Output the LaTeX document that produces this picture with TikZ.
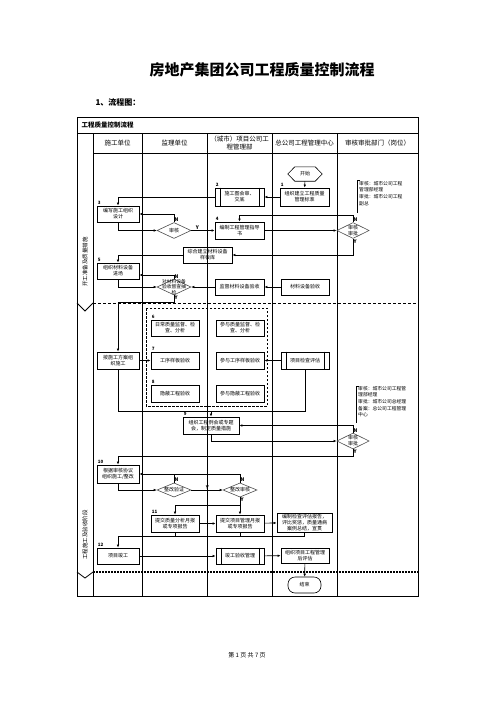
\documentclass[tikz,border=0pt]{standalone}
\usepackage{fontspec}
\setmainfont{Noto Sans CJK SC}
\usetikzlibrary{arrows.meta,positioning,shapes.geometric,calc}
\newcommand{\sidebars}[1]{%
  \draw[line width=0.8pt] ([xshift=5.5pt]#1.north west) -- ([xshift=5.5pt]#1.south west)
    ([xshift=-5.5pt]#1.north east) -- ([xshift=-5.5pt]#1.south east);}
\newcommand{\notebracket}[2]{%
  \draw[line width=0.8pt] (#1+3,#2) -- (#1,#2) -- (#1,#2+33);}

\begin{document}
\begin{tikzpicture}[x=1pt,y=-1pt,
  every node/.style={font=\fontsize{5}{6}\selectfont},
  box/.style={draw,line width=0.8pt,inner sep=0pt,align=center,minimum width=49pt,minimum height=16pt},
  dia/.style={draw=black!70,line width=0.6pt,diamond,aspect=2.1,inner sep=0pt,align=center,minimum width=34pt,minimum height=16pt},
  head/.style={align=center,font=\fontsize{6.5}{8}\selectfont},
  num/.style={anchor=south west,inner sep=1pt,font=\fontsize{4.5}{5}\selectfont\bfseries},
  yn/.style={inner sep=0.5pt,font=\fontsize{5}{5}\selectfont\bfseries},
  note/.style={anchor=north west,align=left,inner sep=1pt,font=\fontsize{4.8}{6.6}\selectfont},
  arr/.style={-{Latex[length=3pt,width=2.6pt]},line width=0.6pt},
  link/.style={line width=0.6pt},
  frame/.style={line width=0.8pt}
]
\useasboundingbox (0,0) rectangle (496,702);

% title
\node[font=\fontsize{15}{15}\selectfont\bfseries] (title) at (262,70) {房地产集团公司工程质量控制流程};
\node[anchor=west,font=\fontsize{8}{8}\selectfont\bfseries] (sub) at (92,102) {1、流程图：};

% table
\draw[frame] (77,117) rectangle (418,596);
\draw[frame] (77,133) -- (418,133);
\draw[frame] (93,153) -- (418,153);
\draw[frame] (93,133) -- (93,596);
\foreach \x in {142,207,272,337}
  \draw[frame] (\x,133) -- (\x,596);
\node[anchor=west,font=\fontsize{6.5}{7}\selectfont\bfseries] (tabtitle) at (78,125) {工程质量控制流程};
\node[head] (h1) at (117.5,143) {施工单位};
\node[head] (h2) at (174.5,143) {监理单位};
\node[head] (h3) at (239.5,143) {（城市）项目公司工\\程管理部};
\node[head] (h4) at (304.5,143) {总公司工程管理中心};
\node[head] (h5) at (377.5,143) {审核审批部门（岗位）};

% phases
\draw[line width=0.7pt,dash pattern=on 3pt off 2pt] (93,303) -- (418,303);
\draw[frame] (77,303) -- (85,311) -- (93,303);
\draw[line width=1.6pt,dash pattern=on 1.6pt off 1.4pt] (93,572) -- (418,572);
\draw[frame] (77,572) -- (85,578) -- (93,572);
\node[rotate=90,font=\fontsize{5.5}{6}\selectfont] (ph1) at (85,262) {开工准备及质量措施};
\node[rotate=90,font=\fontsize{5.5}{6}\selectfont] (ph2) at (85,535) {工程施工及验收阶段};

% start
\node[minimum width=34pt,minimum height=14pt,inner sep=0pt] (start) at (305,174) {开始};
\draw[line width=0.6pt] (start.west) -- ([xshift=7pt]start.north west) -- ([xshift=-7pt]start.north east)
  -- (start.east) -- ([xshift=-7pt]start.south east) -- ([xshift=7pt]start.south west) -- cycle;

% nodes
\node[box,minimum height=18pt] (n1) at (304.5,197) {组织建立工程质量\\管理标准};
\node[box,minimum height=18pt] (n2) at (239.5,197) {施工图会审、\\交底};
\sidebars{n2}
\node[box,minimum width=42pt] (n3) at (118,214) {编写施工组织\\设计};
\node[dia] (d1) at (174,230.5) {审核};
\node[box,minimum height=17pt] (n4) at (239.5,230.5) {编制工程管理指导\\书};
\node[dia,minimum width=32pt] (d2) at (353,230.5) {审核\\审批};
\node[box] (nlib) at (207.5,255) {综合建立材料设备\\样板库};
\node[box,minimum width=42pt] (n5) at (118,271) {组织材料设备\\进场};
\node[dia] (d3) at (174,287) {};
\node[align=center,font=\fontsize{4.8}{5.6}\selectfont] (d3t) at (d3) {对材料设备\\验收督查抽\\检};
\node[box] (nsup) at (239.5,287) {监督材料设备验收};
\node[box,minimum width=48pt] (nmat) at (305,287) {材料设备验收};

\node[box,minimum width=42pt,minimum height=17pt] (n6) at (118,360.5) {按施工方案组\\织施工};
\draw[line width=1pt,dash pattern=on 2.5pt off 1.5pt] (146,308) rectangle (267,406);
\node[box,minimum width=48pt] (n6a) at (175,328) {日常质量监督、检\\查、分析};
\node[box,minimum width=48pt] (n6b) at (240,328) {参与质量监督、检\\查、分析};
\node[box,minimum width=48pt,minimum height=17pt] (n7a) at (175,360.5) {工序样板验收};
\node[box,minimum width=48pt,minimum height=17pt] (n7b) at (240,360.5) {参与工序样板验收};
\node[box,minimum width=48pt,minimum height=17pt] (n8a) at (175,393.5) {隐蔽工程验收};
\node[box,minimum width=48pt,minimum height=17pt] (n8b) at (240,393.5) {参与隐蔽工程验收};
\node[box,minimum width=48pt,minimum height=17pt] (neval) at (305,360.5) {项目检查评估};
\sidebars{neval}
\node[box,minimum width=56pt,minimum height=17pt] (n9) at (211,425.5) {组织工程例会或专题\\会，制定质量措施};
\node[dia,minimum width=32pt] (d4) at (353,441) {审核\\审批};

\node[box,minimum width=42pt,minimum height=18pt] (n10) at (118,474) {根据审核协议\\组织施工/整改};
\node[dia,minimum height=14pt] (d5) at (174,490) {整改验证};
\node[dia,minimum height=14pt] (d6) at (240,490) {整改审核};
\node[box,minimum width=48pt,minimum height=17pt] (n11a) at (175,523.5) {提交质量分析月报\\或专项报告};
\node[box,minimum width=48pt,minimum height=17pt] (n11b) at (240,523.5) {提交项目管理月报\\或专项报告};
\node[box,minimum width=55pt,minimum height=19pt] (n11c) at (304.5,522.5) {编制检查评估报告，\\评比奖惩，质量通病\\案例总结，宣贯};
\node[box,minimum width=42pt] (n12) at (118,556) {项目竣工};
\node[box,minimum width=48pt] (nacc) at (240,556) {竣工验收管理};
\sidebars{nacc}
\node[box,minimum width=48pt,minimum height=15pt] (npost) at (305,555.5) {组织项目工程管理\\后评估};
\node[draw,line width=0.6pt,rounded corners=7pt,minimum width=33pt,minimum height=16pt,inner sep=0pt] (end) at (304.5,585) {结束};

% step numbers
\node[num] at (n1.north west) {1};
\node[num] at (n2.north west) {2};
\node[num] at (n3.north west) {3};
\node[num] at (n4.north west) {4};
\node[num] at (n5.north west) {5};
\node[num] at (n6a.north west) {6};
\node[num] at (n7a.north west) {7};
\node[num] at (n8a.north west) {8};
\node[num] at (n9.north west) {9};
\node[num] at (n10.north west) {10};
\node[num] at (n11a.north west) {11};
\node[num] at (n12.north west) {12};

% notes
\notebracket{357}{180}
\node[note] (note1) at (358,180) {审核：城市公司工程\\管理部经理\\审批：城市公司工程\\副总};
\draw[line width=0.8pt] (359,386) -- (356,386) -- (356,423);
\node[note] (note2) at (357,385) {审核：城市公司工程管\\理部经理\\审批：城市公司总经理\\备案：总公司工程管理\\中心};

% connectors
\draw[arr] (start) -- (n1);
\draw[arr] (n1) -- (n2);
\draw[arr] (n2.west) -| (n3.north);
\draw[arr] (n3.south) |- (d1.west);
\draw[arr] (d1.north) |- (n3.east);
\draw[arr] (d1.east) -- (n4.west);
\draw[arr] (n4.east) -- (d2.west);
\draw[arr] (d2.north) -- ++(0,-7) -| (n4.north);
\draw[arr] (d2.south) |- (nlib.east);
\draw[arr] (nlib.west) -| (n5.north);
\draw[arr] (n5.south) |- (d3.west);
\draw[arr] (d3.north) |- ([yshift=-4pt]n5.east);
\draw[arr] (nmat) -- (nsup);
\draw[arr] (nsup) -- (d3.east);
\draw[arr] (d3.south) -- ++(0,7) -| (n6.north);
\draw[arr] (n6) -- (n7a);
\draw[arr] (neval) -- (n7b);
\coordinate (j9) at (211,411);
\draw[link] (n6.south) |- (j9);
\draw[link] (neval.south) |- (j9);
\draw[arr] (j9) -- (n9.north);
\draw[arr] (n9.south) |- (d4.west);
\draw[arr] (d4.north) |- (n9.east);
\draw[arr] (d4.south) -- ++(0,7) -| (n10.north);
\draw[arr] (n10.south) |- (d5.west);
\draw[arr] (d6.north) |- (n10.east);
\draw[link] (d5.north) -- (d5.north |- n10.east);
\draw[arr] (d5) -- (d6);
\draw[arr] (d6.south) -- (n11b.north);
\draw[arr] (d6.south) -- ++(0,8) -| (n11a.north);
\draw[arr] (n11a) -- (n11b);
\draw[arr] (n11b) -- (n11c);
\draw[arr] (n11c.south) -- ++(0,4) -| (n12.north);
\draw[link] (n11a.south) -- ++(0,4);
\draw[link] (n11b.south) -- ++(0,4);
\draw[arr] (n12) -- (nacc);
\draw[arr] (nacc) -- (npost);
\draw[arr] (npost) -- (end);

% Y / N marks
\node[yn,anchor=south west] at (d1.north) {N};
\node[yn,anchor=south] at ($(d1.east)+(6,0)$) {Y};
\node[yn,anchor=south west] at (d2.north) {N};
\node[yn,anchor=north west] at (d2.south) {Y};
\node[yn,anchor=south west] at (d3.north) {N};
\node[yn,anchor=north west] at (d3.south) {Y};
\node[yn,anchor=south west] at (d4.north) {N};
\node[yn,anchor=north west] at (d4.south) {Y};
\node[yn,anchor=south west] at (d5.north) {N};
\node[yn,anchor=south] at ($(d5.east)+(16,0)$) {Y};
\node[yn,anchor=south west] at (d6.north) {N};
\node[yn,anchor=north west] at (d6.south) {Y};

% footer
\node[font=\fontsize{6}{6}\selectfont] (foot) at (247,655) {第 1 页 共 7 页};
\end{tikzpicture}
\end{document}
